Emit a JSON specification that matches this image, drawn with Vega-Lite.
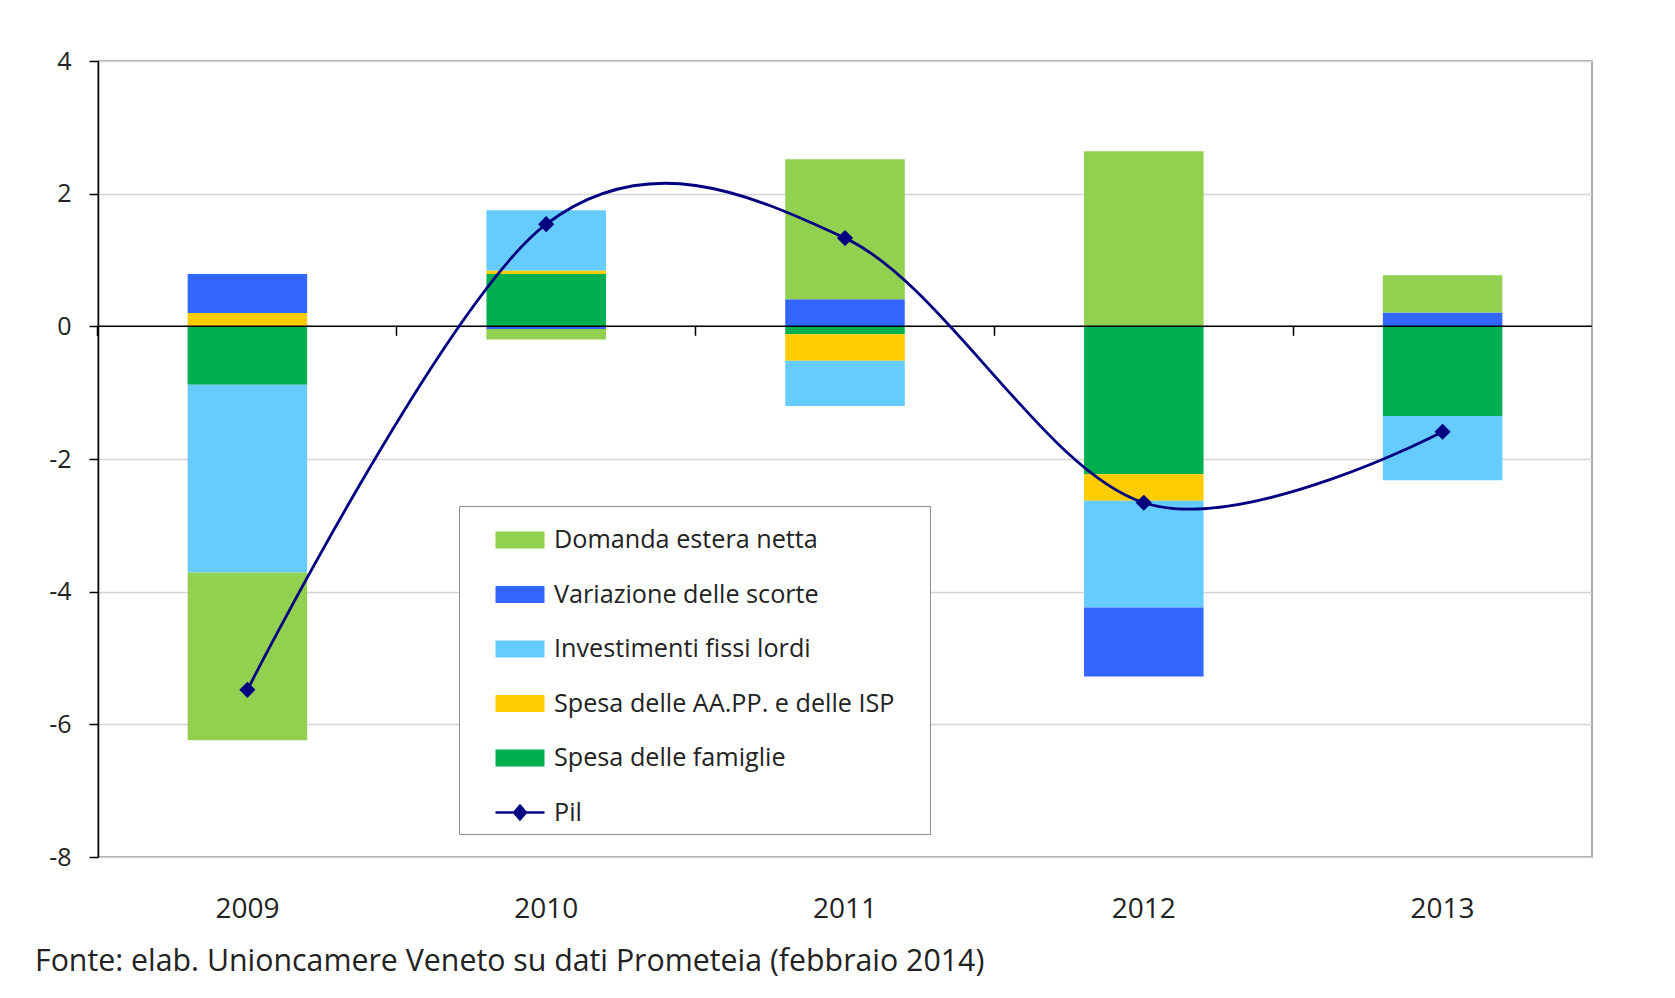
{
  "$schema": "https://vega.github.io/schema/vega-lite/v6.json",
  "width": 1494,
  "height": 796,
  "autosize": {"type": "none"},
  "padding": {"left": 98, "top": 61, "right": 83, "bottom": 141},
  "background": "white",
  "config": {
    "view": {"stroke": "#8c8c8c", "strokeWidth": 1.5},
    "font": "Open Sans"
  },
  "title": {
    "text": "Fonte: elab. Unioncamere Veneto su dati Prometeia (febbraio 2014)",
    "orient": "bottom",
    "anchor": "start",
    "frame": "group",
    "dx": -63,
    "offset": 24,
    "fontSize": 30.3,
    "font": "Open Sans",
    "fontWeight": "normal",
    "color": "#222222"
  },
  "datasets": {
    "componenti": [
      {"anno": "2009", "serie": "Spesa delle famiglie", "valore": -0.88},
      {"anno": "2009", "serie": "Spesa delle AA.PP. e delle ISP", "valore": 0.2},
      {"anno": "2009", "serie": "Investimenti fissi lordi", "valore": -2.83},
      {"anno": "2009", "serie": "Variazione delle scorte", "valore": 0.59},
      {"anno": "2009", "serie": "Domanda estera netta", "valore": -2.53},
      {"anno": "2010", "serie": "Spesa delle famiglie", "valore": 0.79},
      {"anno": "2010", "serie": "Spesa delle AA.PP. e delle ISP", "valore": 0.05},
      {"anno": "2010", "serie": "Investimenti fissi lordi", "valore": 0.91},
      {"anno": "2010", "serie": "Variazione delle scorte", "valore": -0.04},
      {"anno": "2010", "serie": "Domanda estera netta", "valore": -0.16},
      {"anno": "2011", "serie": "Spesa delle famiglie", "valore": -0.12},
      {"anno": "2011", "serie": "Spesa delle AA.PP. e delle ISP", "valore": -0.4},
      {"anno": "2011", "serie": "Investimenti fissi lordi", "valore": -0.68},
      {"anno": "2011", "serie": "Variazione delle scorte", "valore": 0.41},
      {"anno": "2011", "serie": "Domanda estera netta", "valore": 2.11},
      {"anno": "2012", "serie": "Spesa delle famiglie", "valore": -2.23},
      {"anno": "2012", "serie": "Spesa delle AA.PP. e delle ISP", "valore": -0.4},
      {"anno": "2012", "serie": "Investimenti fissi lordi", "valore": -1.61},
      {"anno": "2012", "serie": "Variazione delle scorte", "valore": -1.04},
      {"anno": "2012", "serie": "Domanda estera netta", "valore": 2.64},
      {"anno": "2013", "serie": "Spesa delle famiglie", "valore": -1.35},
      {"anno": "2013", "serie": "Spesa delle AA.PP. e delle ISP", "valore": 0.0},
      {"anno": "2013", "serie": "Investimenti fissi lordi", "valore": -0.97},
      {"anno": "2013", "serie": "Variazione delle scorte", "valore": 0.21},
      {"anno": "2013", "serie": "Domanda estera netta", "valore": 0.56}
    ],
    "pil": [
      {"anno": "2009", "valore": -5.48},
      {"anno": "2010", "valore": 1.54},
      {"anno": "2011", "valore": 1.33},
      {"anno": "2012", "valore": -2.66},
      {"anno": "2013", "valore": -1.59}
    ]
  },
  "resolve": {"axis": {"x": "independent"}},
  "layer": [
    {
      "data": {"name": "componenti"},
      "transform": [
        {"calculate": "indexof(['Spesa delle famiglie','Spesa delle AA.PP. e delle ISP','Investimenti fissi lordi','Variazione delle scorte','Domanda estera netta'], datum.serie)", "as": "ordine"}
      ],
      "mark": {"type": "bar"},
      "encoding": {
        "x": {
          "field": "anno", "type": "ordinal",
          "scale": {"paddingInner": 0.6, "paddingOuter": 0.3},
          "axis": {
            "orient": "bottom",
            "title": null, "domain": false, "ticks": false, "tickSize": 0,
            "labelAngle": 0, "labelFontSize": 28, "labelColor": "#222222",
            "labelPadding": 38, "grid": false
          }
        },
        "y": {
          "field": "valore", "type": "quantitative", "stack": "zero",
          "scale": {"domain": [-8, 4], "nice": false, "zero": false},
          "axis": {
            "title": null, "values": [-8, -6, -4, -2, 0, 2, 4],
            "labelExpr": "'' + datum.value",
            "domainColor": "#000000", "domainWidth": 1.5,
            "tickColor": "#000000", "tickWidth": 1.5, "tickSize": 9,
            "labelFontSize": 25, "labelColor": "#222222", "labelPadding": 18,
            "grid": true, "gridColor": "#d4d4d4", "gridWidth": 1.5
          }
        },
        "color": {
          "field": "serie", "type": "nominal",
          "scale": {
            "domain": ["Domanda estera netta", "Variazione delle scorte", "Investimenti fissi lordi", "Spesa delle AA.PP. e delle ISP", "Spesa delle famiglie", "Pil"],
            "range": ["#92D050", "#3366FF", "#66CCFF", "#FFCC00", "#00B050", "#000080"]
          },
          "legend": {
            "title": "\u2003",
            "titleOrient": "right",
            "titleFontSize": 25,
            "titlePadding": 28,
            "orient": "none",
            "legendX": 361,
            "legendY": 445,
            "strokeColor": "#8c8c8c",
            "fillColor": "white",
            "padding": 8,
            "labelFontSize": 25.2,
            "labelColor": "#222222",
            "labelFont": "Open Sans",
            "labelOffset": 8,
            "labelLimit": 700,
            "symbolType": "M-1,-0.35H1V0.35H-1Z",
            "symbolSize": 2401,
            "symbolOffset": 27,
            "symbolStrokeWidth": 0,
            "rowPadding": 14.5,
            "encode": {
              "symbols": {
                "update": {
                  "shape": {"signal": "datum.value === 'Pil' ? 'M-1,0H1M0,-0.28L0.24,0L0,0.28L-0.24,0Z' : 'M-1,-0.35H1V0.35H-1Z'"},
                  "stroke": {"signal": "datum.value === 'Pil' ? '#000080' : 'transparent'"},
                  "strokeWidth": {"value": 2.5}
                }
              }
            }
          }
        },
        "order": {"field": "ordine", "type": "quantitative"}
      }
    },
    {
      "data": {"values": [{"z": 0}]},
      "mark": {"type": "rule", "color": "#000000", "strokeWidth": 1.5},
      "encoding": {"y": {"datum": 0}}
    },
    {
      "data": {"name": "pil"},
      "mark": {"type": "line", "color": "#000080", "strokeWidth": 2.8, "interpolate": "cardinal", "tension": 0},
      "encoding": {
        "x": {
          "field": "anno", "type": "ordinal",
          "axis": {
            "orient": "bottom",
            "title": null, "labels": false, "domain": false, "grid": false,
            "ticks": true, "bandPosition": -0.75, "tickSize": 9,
            "tickColor": "#000000", "tickWidth": 1.5, "offset": -530.67
          }
        },
        "y": {"field": "valore", "type": "quantitative"}
      }
    },
    {
      "data": {"name": "pil"},
      "mark": {"type": "point", "shape": "diamond", "filled": true, "color": "#000080", "size": 260, "opacity": 1},
      "encoding": {
        "x": {"field": "anno", "type": "ordinal", "axis": null},
        "y": {"field": "valore", "type": "quantitative"}
      }
    }
  ]
}
